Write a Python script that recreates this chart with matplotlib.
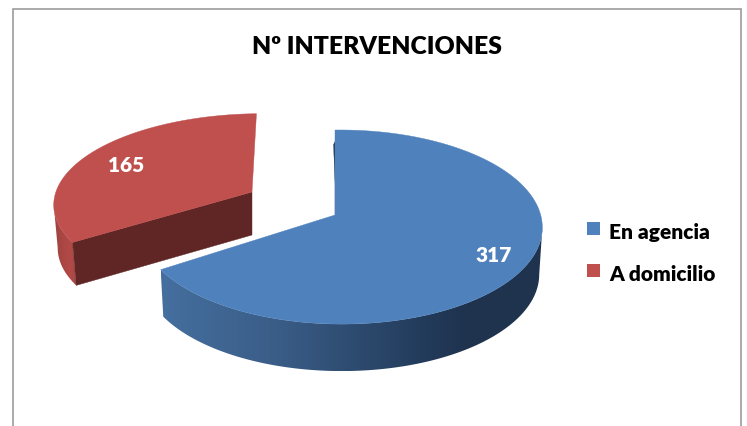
import numpy as np
import matplotlib
matplotlib.use("Agg")
import matplotlib.pyplot as plt
from matplotlib.patches import Polygon, Rectangle
from matplotlib.colors import LinearSegmentedColormap

title = "Nº INTERVENCIONES"
categories = ["En agencia", "A domicilio"]
values = [317, 165]

TOP_COLORS = ["#4f81bd", "#c0504d"]
CUT_COLOR = "#5f2625"
FRAME = "#9c9c9c"
FONT = "Lato"
WEIGHT = 800

W, H = 747, 427
fig = plt.figure(figsize=(W / 100, H / 100), dpi=100)
ax = fig.add_axes([0, 0, 1, 1])
ax.axis("off")


def proj(theta, r, ax0, ay0, rx, ry, shear, k=0.124, m=-0.03):
    """Theta clockwise from 12 o'clock; perspective view of a flat disc."""
    u, v = r * np.sin(theta), r * np.cos(theta)
    w = 1 + k * v + m * u
    return ax0 + (rx * u + shear * v) / w, ay0 - ry * v / w


def bottom(x, y, ax0, depth, shrink):
    return ax0 + (x - ax0) * shrink, y + depth


def gradient_side(x, y, bx, by, cmap, zorder):
    """Rim wall between the top edge and the bottom edge, shaded along x."""
    poly = Polygon(np.r_[np.c_[x, y], np.c_[bx, by][::-1]], fc="none", ec="none", zorder=zorder)
    ax.add_patch(poly)
    x0, x1 = min(x.min(), bx.min()), max(x.max(), bx.max())
    y0, y1 = min(y.min(), by.min()), max(y.max(), by.max())
    im = ax.imshow(np.linspace(0, 1, 256)[None, :], cmap=cmap, extent=(x0, x1, y1, y0),
                   aspect="auto", zorder=zorder, interpolation="bilinear")
    im.set_clip_path(poly)


fracs = np.array(values, dtype=float) / sum(values)
starts = np.concatenate([[0], np.cumsum(fracs)[:-1]]) * 2 * np.pi
ends = np.cumsum(fracs) * 2 * np.pi

# ---- A domicilio (exploded slice, drawn first: it sits behind)
p = dict(ax0=252, ay0=193, rx=202, ry=88, shear=5)
depth, shrink = 43, 0.98
th = np.linspace(starts[1], ends[1], 160)
x, y = proj(th, 1, **p)
bx, by = bottom(x, y, p["ax0"], depth, shrink)
red_side = LinearSegmentedColormap.from_list("r", [(0, "#a04240"), (0.7, "#b24a47"), (1, "#a84644")])
stop = np.argmin(x) + 1          # visible wall: cut corner round to the left-hand tangent
gradient_side(x[:stop], y[:stop], bx[:stop], by[:stop], red_side, 1)
ax0, ay0 = p["ax0"], p["ay0"]
abx, aby = bottom(ax0, ay0, ax0, depth, shrink)
ax.add_patch(Polygon([(x[0], y[0]), (ax0, ay0), (abx, aby), (bx[0], by[0])],
                     fc=CUT_COLOR, ec=CUT_COLOR, lw=0.3, zorder=2))
ax.add_patch(Polygon(np.r_[np.c_[x, y], [[ax0, ay0]]], fc=TOP_COLORS[1], ec=TOP_COLORS[1], lw=0.3, zorder=3))

# ---- En agencia
p = dict(ax0=335, ay0=216, rx=199.5, ry=95.5, shear=0)
depth, shrink = 47, 0.985
th = np.linspace(starts[0], ends[0], 320)
x, y = proj(th, 1, **p)
bx, by = bottom(x, y, p["ax0"], depth, shrink)
blue_side = LinearSegmentedColormap.from_list(
    "b", [(0, "#456f9f"), (0.3, "#3a5d87"), (0.68, "#233c5c"), (0.8, "#1f334e"), (1, "#1f334e")])
start = np.argmax(x)             # visible wall: right-hand tangent round to the cut corner
gradient_side(x[start:], y[start:], bx[start:], by[start:], blue_side, 4)
ax0, ay0 = p["ax0"], p["ay0"]
# thin sliver of the dark cut face along the 12 o'clock edge
sx, sy = proj(starts[0], 0.85, **p)
ax.add_patch(Polygon([(sx, sy), (ax0, ay0), (ax0 + 1.5, ay0 + 2), (sx - 1.5, sy + 3)],
                     fc="#1f334e", ec="#1f334e", lw=0.2, zorder=4))
ax.add_patch(Polygon(np.r_[np.c_[x, y], [[ax0, ay0]]], fc=TOP_COLORS[0], ec=TOP_COLORS[0], lw=0.3, zorder=5))

# ---- labels
ax.text(494, 256, str(values[0]), color="white", fontsize=15, fontweight=WEIGHT,
        family=FONT, ha="center", va="center", zorder=6)
ax.text(126, 166, str(values[1]), color="white", fontsize=15, fontweight=WEIGHT,
        family=FONT, ha="center", va="center", zorder=6)

# ---- title
ax.text(376.5, 47, title, color="black", fontsize=17.8, fontweight=WEIGHT,
        family=FONT, ha="center", va="center")

# ---- legend
for name, col, yc in zip(categories, TOP_COLORS, [229.5, 271.5]):
    ax.add_patch(Rectangle((587, yc - 6.5), 13, 13, fc=col, ec="none"))
    ax.text(609, yc + 3, name, color="black", fontsize=15, fontweight=WEIGHT,
            family=FONT, ha="left", va="center")

# ---- chart-area frame (cropped at the bottom)
ax.plot([12.5, 12.5, 741, 741], [H, 10, 10, H], color=FRAME, lw=1.2, solid_joinstyle="miter")

ax.set_xlim(0, W)
ax.set_ylim(H, 0)
fig.savefig("out.png", dpi=100)
